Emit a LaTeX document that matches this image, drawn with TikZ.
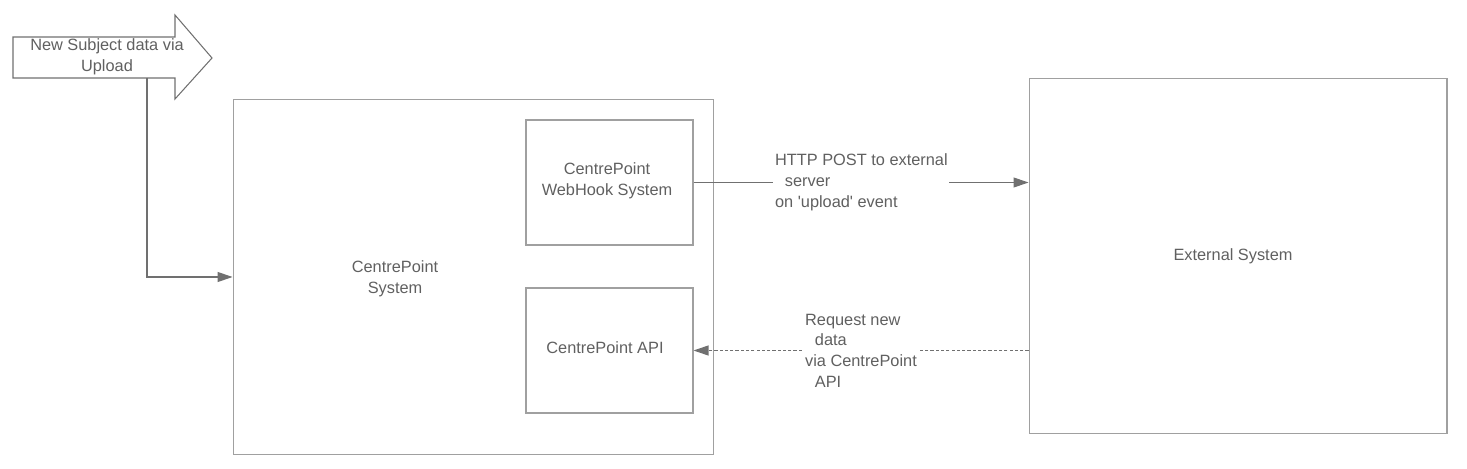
\documentclass[tikz,border=0pt]{standalone}
\usepackage{fontspec}
\setmainfont{Liberation Sans}
\usetikzlibrary{arrows.meta}
\definecolor{txtgray}{HTML}{606060}
\definecolor{boxgray}{HTML}{A0A0A0}
\definecolor{linegray}{HTML}{707070}
\tikzset{
  box/.style={draw=boxgray,line width=0.6pt,inner sep=0pt},
  lbl/.style={text=txtgray,font=\fontsize{9.3}{11.8}\selectfont,align=center},
  edgelbl/.style={lbl,align=left,fill=white,inner xsep=1pt,inner ysep=2pt},
  conn/.style={draw=linegray,line width=0.6pt,-{Triangle[length=0.3cm,width=0.2cm]}}
}
\begin{document}
\begin{tikzpicture}[x=0.02cm,y=-0.02cm]
\path[use as bounding box](0,0)rectangle(1467,469);
% upload arrow
\path[draw=linegray,line width=0.6pt](13,37)--(175,37)--(175,15)--(212,58)%
--(175,99)--(175,78)--(13,78)--cycle;
\node[lbl](upload)at(107,57){New Subject data via\\Upload};
\coordinate(upfoot)at(147,78);
% boxes
\node[box,minimum width=9.62cm,minimum height=7.12cm](sys)at(473.5,277){};
\node[lbl](syslbl)at(395,279){CentrePoint\\System};
\node[box,minimum width=3.34cm,minimum height=2.5cm](hook)at(609.5,182.5){};
\node[lbl](hooklbl)at(607,181){CentrePoint\\WebHook System};
\node[box,minimum width=3.34cm,minimum height=2.5cm](api)at(609.5,350.5){};
\node[lbl](apilbl)at(605,348){CentrePoint API};
\node[box,minimum width=8.36cm,minimum height=7.12cm](ext)at(1238,256){};
\node[lbl](extlbl)at(1233,256){External System};
% connectors
\path[conn](upfoot)|-(sys.west);
\path[conn](hook.east)--(hook.east-|ext.west);
\path[conn,dash pattern=on 1.8pt off 1.2pt](api.east-|ext.west)--(api.east);
\node[edgelbl,anchor=west](postlbl)at(773,182.5)%
{HTTP POST to external\\\hspace{0.6em}server\\on \textquotesingle upload\textquotesingle\ event};
\node[edgelbl,anchor=west](reqlbl)at(803,350.5)%
{Request new\\\hspace{0.6em}data\\via CentrePoint\\\hspace{0.6em}API};
\end{tikzpicture}
\end{document}
